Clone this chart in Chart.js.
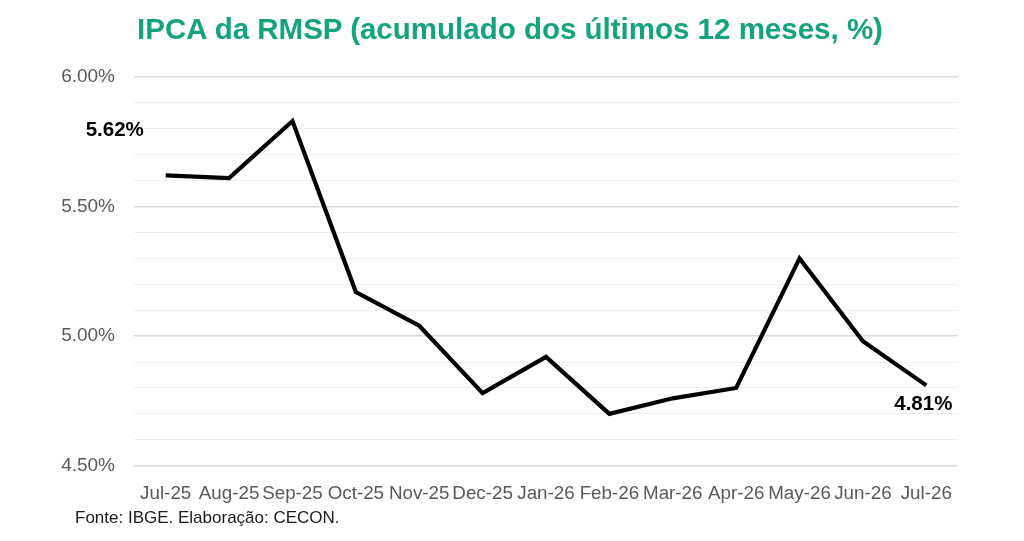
<!DOCTYPE html>
<html>
<head>
<meta charset="utf-8">
<script src="https://cdn.jsdelivr.net/npm/chart.js@4.4.1/dist/chart.umd.min.js"></script>
<style>
  html, body { margin: 0; padding: 0; background: #ffffff; }
  #wrap { position: relative; width: 1024px; height: 541px; overflow: hidden; background: #fff; }
  #title { position: absolute; left: 0; width: 1024px; top: 11px; text-align: center; padding-right: 4px; box-sizing: border-box;
           font-family: "Liberation Sans", Arial, sans-serif; font-weight: bold; font-size: 29.5px; color: #14a37f; line-height: 36px; white-space: nowrap; }
  #source { position: absolute; left: 75px; top: 507px; font-family: "Liberation Sans", Arial, sans-serif; font-size: 17px; color: #1a1a1a; line-height: 22px; white-space: nowrap; }
  canvas { position: absolute; left: 0; top: 0; }
</style>
</head>
<body>
<div id="wrap">
  <canvas id="c" width="1024" height="541"></canvas>
  <div id="title">IPCA da RMSP (acumulado dos últimos 12 meses, %)</div>
  <div id="source">Fonte: IBGE. Elaboração: CECON.</div>
</div>
<script>
const categories = ["Jul-25","Aug-25","Sep-25","Oct-25","Nov-25","Dec-25","Jan-26","Feb-26","Mar-26","Apr-26","May-26","Jun-26","Jul-26"];
const ipcaValues = [5.62, 5.61, 5.83, 5.17, 5.04, 4.78, 4.92, 4.70, 4.76, 4.80, 5.30, 4.98, 4.81];
const yTickLabels = [4.5, 5.0, 5.5, 6.0];
const labeledPoints = [0, 12];

const FONT = "'Liberation Sans', Arial, sans-serif";

const pointLabels = {
  id: 'pointLabels',
  afterDatasetsDraw(chart) {
    const meta = chart.getDatasetMeta(0);
    const ctx = chart.ctx;
    ctx.save();
    ctx.font = "bold 20.5px " + FONT;
    ctx.fillStyle = "#000";
    ctx.textAlign = "center";
    ctx.textBaseline = "middle";
    labeledPoints.forEach(i => {
      const p = meta.data[i];
      const txt = ipcaValues[i].toFixed(2) + "%";
      let dx = 0, dy = 0;
      if (i === 0) { dx = -51; dy = -45; }
      else { dx = -3; dy = 19; }
      ctx.fillText(txt, p.x + dx, p.y + dy);
    });
    ctx.restore();
  }
};

const isMajor = v => yTickLabels.some(t => Math.abs(t - v) < 1e-6);

new Chart(document.getElementById('c'), {
  type: 'line',
  data: {
    labels: categories,
    datasets: [{
      data: ipcaValues,
      borderColor: '#000',
      borderWidth: 4.2,
      pointRadius: 0,
      pointHoverRadius: 0,
      tension: 0,
      fill: false,
      borderJoinStyle: 'miter',
      borderCapStyle: 'butt'
    }]
  },
  options: {
    responsive: false,
    animation: false,
    events: [],
    layout: { padding: { top: 77, left: 0, right: 66, bottom: 0 } },
    plugins: { legend: { display: false }, title: { display: false }, tooltip: { enabled: false } },
    scales: {
      x: {
        type: 'category',
        offset: true,
        grid: { display: false, drawTicks: false },
        border: { display: false },
        ticks: {
          autoSkip: false, maxRotation: 0, minRotation: 0,
          padding: 17,
          color: '#595959',
          font: { family: FONT, size: 18.8 }
        },
        afterFit(s) { s.height = 75.3; }
      },
      y: {
        min: 4.5, max: 6.0,
        grid: {
          drawTicks: false,
          color: ctx => isMajor(ctx.tick.value) ? '#d9d9d9' : '#eeeeee',
          lineWidth: ctx => isMajor(ctx.tick.value) ? 1.5 : 1
        },
        border: { display: false },
        ticks: {
          stepSize: 0.1,
          autoSkip: false,
          padding: 19,
          color: '#595959',
          font: { family: FONT, size: 19 },
          callback: v => isMajor(v) ? Number(v).toFixed(2) + '%' : ''
        },
        afterFit(s) { s.width = 134; }
      }
    }
  },
  plugins: [pointLabels]
});
</script>
</body>
</html>
